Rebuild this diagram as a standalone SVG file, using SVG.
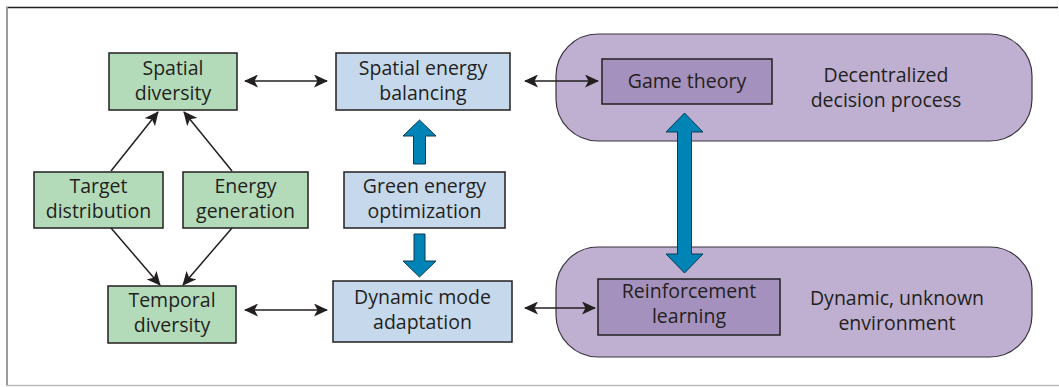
<svg xmlns="http://www.w3.org/2000/svg" width="1059" height="387" viewBox="0 0 1059 387">
<defs>
<style>
text{font-family:"Open Sans","Noto Sans","Liberation Sans",sans-serif;font-size:19.5px;fill:#231f20;text-anchor:middle}
.g{fill:#b3dbb9;stroke:#231f20;stroke-width:1.5}
.b{fill:#c6d9ec;stroke:#231f20;stroke-width:1.5}
.po{fill:#bfb0d1;stroke:#3a3340;stroke-width:1.2}
.pi{fill:#a591bd;stroke:#231f20;stroke-width:1.5}
.c{stroke:#231f20;stroke-width:1.5;fill:none}
.ba{fill:#0083b5;stroke:#0a3a55;stroke-width:1}
</style>
<marker id="ah" viewBox="0 0 14 13" refX="13" refY="6.5" markerWidth="14" markerHeight="13" markerUnits="userSpaceOnUse" orient="auto-start-reverse">
<path d="M0,0 L14,6.5 L0,13 L3.5,6.5 Z" fill="#231f20"/>
</marker>
</defs>
<rect width="1059" height="387" fill="#fff"/>
<g id="frame">
<line x1="6" y1="7.5" x2="1058" y2="7.5" stroke="#231f20" stroke-width="1.5"/>
<line x1="7" y1="7" x2="7" y2="386" stroke="#999" stroke-width="2"/>
<line x1="6" y1="385.5" x2="1059" y2="385.5" stroke="#bbb" stroke-width="1.5"/>
</g>
<g id="group-decentralized">
<rect class="po" x="556" y="34" width="476" height="107" rx="42"/>
<text x="886" y="82">Decentralized</text>
<text x="886" y="107">decision process</text>
</g>
<g id="group-dynamic">
<rect class="po" x="556" y="247" width="476" height="110" rx="42"/>
<text x="897" y="305">Dynamic, unknown</text>
<text x="897" y="330">environment</text>
</g>
<g id="spatial-diversity">
<rect class="g" x="109" y="53" width="128" height="57"/>
<text x="173" y="75">Spatial</text>
<text x="173" y="100">diversity</text>
</g>
<g id="target-distribution">
<rect class="g" x="34" y="172" width="129" height="56"/>
<text x="98.5" y="193">Target</text>
<text x="98.5" y="218">distribution</text>
</g>
<g id="energy-generation">
<rect class="g" x="183" y="172" width="125" height="56"/>
<text x="245.5" y="193">Energy</text>
<text x="245.5" y="218">generation</text>
</g>
<g id="temporal-diversity">
<rect class="g" x="108" y="286" width="128" height="57"/>
<text x="172" y="307">Temporal</text>
<text x="172" y="332">diversity</text>
</g>
<g id="spatial-energy-balancing">
<rect class="b" x="336" y="53" width="174" height="57"/>
<text x="423" y="75">Spatial energy</text>
<text x="423" y="100">balancing</text>
</g>
<g id="green-energy-optimization">
<rect class="b" x="344" y="172" width="161" height="56"/>
<text x="424.5" y="193">Green energy</text>
<text x="424.5" y="218">optimization</text>
</g>
<g id="dynamic-mode-adaptation">
<rect class="b" x="333" y="281" width="179" height="61"/>
<text x="422.5" y="304">Dynamic mode</text>
<text x="422.5" y="329">adaptation</text>
</g>
<g id="game-theory">
<rect class="pi" x="602" y="59" width="170" height="45"/>
<text x="687" y="88">Game theory</text>
</g>
<g id="reinforcement-learning">
<rect class="pi" x="598" y="279" width="182" height="56"/>
<text x="689" y="298">Reinforcement</text>
<text x="689" y="323">learning</text>
</g>
<g id="connectors">
<line class="c" x1="245" y1="81" x2="327" y2="81" marker-start="url(#ah)" marker-end="url(#ah)"/>
<line class="c" x1="245" y1="310" x2="327" y2="310" marker-start="url(#ah)" marker-end="url(#ah)"/>
<line class="c" x1="525" y1="81" x2="598" y2="81" marker-start="url(#ah)" marker-end="url(#ah)"/>
<line class="c" x1="525" y1="308" x2="595" y2="308" marker-start="url(#ah)" marker-end="url(#ah)"/>
<line class="c" x1="111" y1="171" x2="158" y2="112" marker-end="url(#ah)"/>
<line class="c" x1="232" y1="171" x2="184" y2="112" marker-end="url(#ah)"/>
<line class="c" x1="111" y1="228" x2="160" y2="285" marker-end="url(#ah)"/>
<line class="c" x1="232" y1="228" x2="183" y2="285" marker-end="url(#ah)"/>
<path class="ba" d="M413.5,164 L413.5,136 L403,136 L419.5,120 L436,136 L425.5,136 L425.5,164 Z"/>
<path class="ba" d="M414,234 L414,261 L403,261 L419.5,277 L436,261 L425,261 L425,234 Z"/>
<path class="ba" d="M677.5,132 L666,132 L684.5,113 L703,132 L691.5,132 L691.5,254 L703,254 L684.5,273 L666,254 L677.5,254 Z"/>
</g>
</svg>
